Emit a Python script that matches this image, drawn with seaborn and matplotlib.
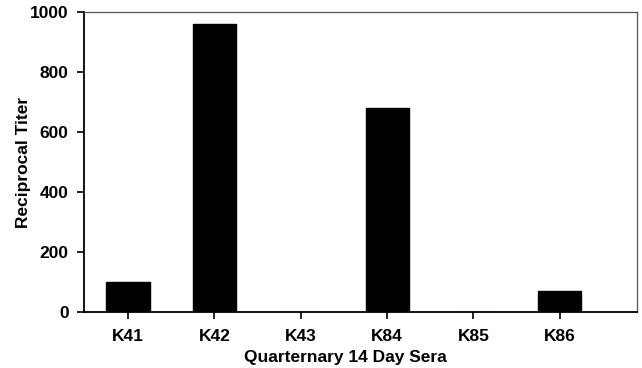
import matplotlib
matplotlib.use("Agg")
import matplotlib.pyplot as plt
import seaborn as sns
import pandas as pd

categories = ["K41", "K42", "K43", "K84", "K85", "K86"]
titers = [100, 960, 0, 680, 0, 70]
yticks = [0, 200, 400, 600, 800, 1000]

sns.set_style("ticks")
plt.rcParams['font.family'] = ['Liberation Sans', 'DejaVu Sans']
plt.rcParams['font.weight'] = 'bold'
plt.rcParams['text.color'] = 'black'
plt.rcParams['axes.labelcolor'] = 'black'
plt.rcParams['xtick.color'] = 'black'
plt.rcParams['ytick.color'] = 'black'

df = pd.DataFrame({"serum": categories, "titer": titers})

fig = plt.figure(figsize=(6.42, 3.68), dpi=100)
ax = fig.add_axes([0.1308, 0.1522, 0.8610, 0.8152])
sns.barplot(data=df, x="serum", y="titer", color="black", width=0.5,
            saturation=1, ax=ax, edgecolor="black")

fs = 12.5
ax.set_xlim(-0.51, 5.89)
ax.set_ylim(0, 1000)
ax.set_yticks(yticks)
ax.set_yticklabels([str(v) for v in yticks], fontsize=fs, fontweight='bold')
ax.set_xticks(range(len(categories)))
ax.set_xticklabels(categories, fontsize=fs, fontweight='bold')
ax.tick_params(axis='both', direction='out', length=5, width=1.2, color='black', labelcolor='black', pad=6)
ax.tick_params(axis='x', pad=7)
ax.set_xlabel("Quarternary 14 Day Sera", fontsize=fs, fontweight='bold', color='black')
ax.set_ylabel("Reciprocal Titer", fontsize=fs, fontweight='bold', color='black')
ax.yaxis.set_label_coords(-0.095, 0.5)
ax.xaxis.set_label_coords(0.473, -0.128)

for side in ['left', 'bottom']:
    ax.spines[side].set_color('black')
    ax.spines[side].set_linewidth(1.3)
for side in ['top', 'right']:
    ax.spines[side].set_color('#555555')
    ax.spines[side].set_linewidth(0.9)
    ax.spines[side].set_visible(True)

fig.savefig("out.png", dpi=100)
